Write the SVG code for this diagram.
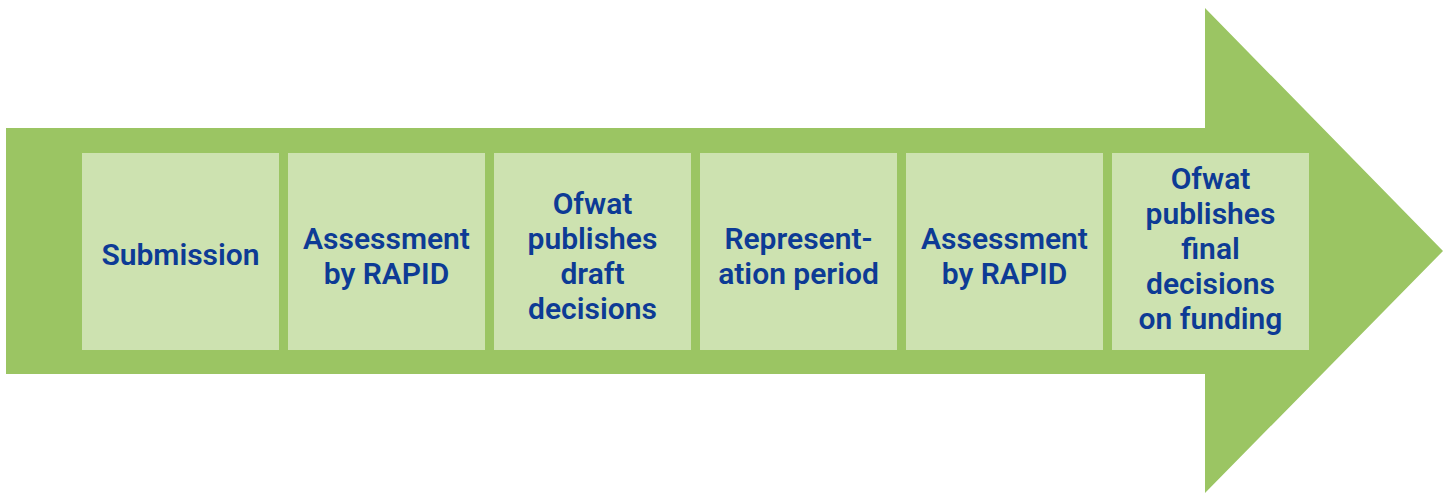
<svg xmlns="http://www.w3.org/2000/svg" width="1451" height="493" viewBox="0 0 1451 493">
  <style>
    .step { fill: #cde2b0; }
    .label { font-family: Roboto, "Liberation Sans", sans-serif; font-weight: 600; font-size: 30px; fill: #0d3b95; text-anchor: middle; }
  </style>
  <rect width="1451" height="493" fill="#ffffff"/>
  <!-- process arrow -->
  <g id="arrow">
    <polygon points="6,128 1205,128 1205,8 1443,251 1205,493 1205,374 6,374" fill="#9bc563"/>
  </g>
  <g id="connectors"></g>
  <g id="step1">
    <rect class="step" x="82" y="153" width="197" height="197"/>
    <text class="label" x="180.5" y="265">Submission</text>
  </g>
  <g id="step2">
    <rect class="step" x="288" y="153" width="197" height="197"/>
    <text class="label" x="386.5" y="249">Assessment</text>
    <text class="label" x="386.5" y="284">by RAPID</text>
  </g>
  <g id="step3">
    <rect class="step" x="494" y="153" width="197" height="197"/>
    <text class="label" x="592.5" y="214">Ofwat</text>
    <text class="label" x="592.5" y="249">publishes</text>
    <text class="label" x="592.5" y="284">draft</text>
    <text class="label" x="592.5" y="319">decisions</text>
  </g>
  <g id="step4">
    <rect class="step" x="700" y="153" width="197" height="197"/>
    <text class="label" x="798.5" y="249">Represent-</text>
    <text class="label" x="798.5" y="284">ation period</text>
  </g>
  <g id="step5">
    <rect class="step" x="906" y="153" width="197" height="197"/>
    <text class="label" x="1004.5" y="249">Assessment</text>
    <text class="label" x="1004.5" y="284">by RAPID</text>
  </g>
  <g id="step6">
    <rect class="step" x="1112" y="153" width="197" height="197"/>
    <text class="label" x="1210.5" y="189">Ofwat</text>
    <text class="label" x="1210.5" y="224">publishes</text>
    <text class="label" x="1210.5" y="259">final</text>
    <text class="label" x="1210.5" y="294">decisions</text>
    <text class="label" x="1210.5" y="329">on funding</text>
  </g>
</svg>
